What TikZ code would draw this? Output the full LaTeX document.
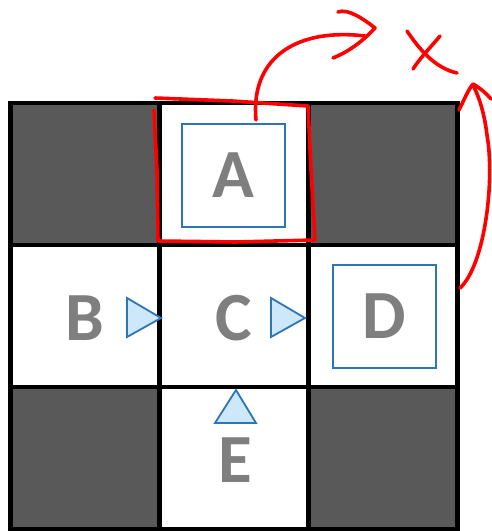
\documentclass[tikz,border=0pt]{standalone}
\usepackage{fontspec}
\usepackage{tikz}
\usetikzlibrary{calc}
\newfontfamily\cellfont{Carlito}
\definecolor{CellDark}{HTML}{595959}
\definecolor{LetterGray}{HTML}{7F7F7F}
\definecolor{BoxBlue}{HTML}{2E75B6}
\definecolor{SoftBlue}{HTML}{CDE8FB}
\definecolor{PenRed}{HTML}{FF0000}
\tikzset{
  cell/.style={rectangle,draw=black,line width=4.5pt,
               minimum width=149pt,minimum height=142pt,inner sep=0pt},
  cW/.style={cell,fill=white},
  cD/.style={cell,fill=CellDark},
  lbl/.style={font=\cellfont\bfseries\fontsize{69}{69}\selectfont,
              text=LetterGray,inner sep=0pt},
  boxed/.style={lbl,draw=BoxBlue,line width=2pt,minimum size=103pt},
  tri/.style={draw=BoxBlue,fill=SoftBlue,line width=1.8pt,line join=miter},
  pen/.style={draw=PenRed,line width=3.6pt,line cap=round,line join=round}
}
\begin{document}
\begin{tikzpicture}[x=1pt,y=-1pt]
  \useasboundingbox (0,0) rectangle (491,531);
  % grid
  \node[cD] (c11) at (84.75,174) {};
  \node[cW] (c12) at (234,174) {};
  \node[cD] (c13) at (383,174) {};
  \node[cW] (c21) at (84.75,316) {};
  \node[cW] (c22) at (234,316) {};
  \node[cW] (c23) at (383,316) {};
  \node[cD] (c31) at (84.75,458) {};
  \node[cW] (c32) at (234,458) {};
  \node[cD] (c33) at (383,458) {};

  % letters
  \node[boxed] (a) at (233.5,175.5) {A};
  \node[lbl] (b) at (85,318) {B};
  \node[lbl] (c) at (234,318) {C};
  \node[boxed] (d) at (384,316) {D};
  \node[lbl] (e) at (235,460) {E};

  % pointers
  \draw[tri] (127,298) -- (161,318) -- (127,337) -- cycle;
  \draw[tri] (271,298) -- (305,318) -- (271,337) -- cycle;
  \draw[tri] (236,390) -- (256,423) -- (215,423) -- cycle;

  % red pen
  \draw[pen] (155,98) -- (232,101) -- (308,106) -- (311,170) -- (315,240)
             -- (236,242) -- (158,241) -- (157,170) -- (154,110);
  \draw[pen] (256,120) .. controls (250,55) and (300,28) .. (365,36);
  \draw[pen] (338,12) .. controls (348,8) and (365,20) .. (375,28)
             .. controls (362,42) and (348,52) .. (333,58);
  \draw[pen] (407,31) .. controls (420,50) and (435,68) .. (457,73);
  \draw[pen] (440,36) .. controls (430,48) and (420,58) .. (413,69);
  \draw[pen] (460,288) .. controls (485,265) and (495,180) .. (487,135)
             .. controls (484,110) and (478,95) .. (473,85);
  \draw[pen] (459,110) .. controls (464,100) and (468,90) .. (473,84)
             .. controls (480,88) and (486,93) .. (491,99);
\end{tikzpicture}
\end{document}
